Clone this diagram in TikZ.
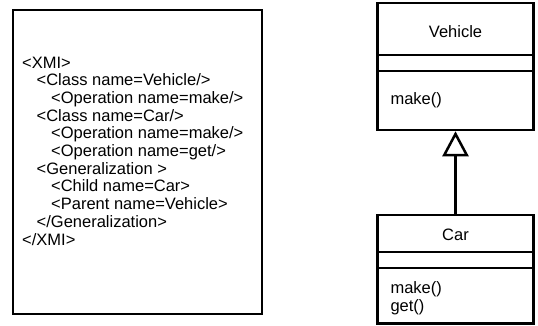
\documentclass[tikz,border=0pt]{standalone}
\usepackage{fontspec}
\setmainfont{Liberation Sans}
\usetikzlibrary{arrows.meta}

\tikzset{
	umlbox/.style={draw, line width=2.5pt, inner sep=0pt, minimum width=156pt},
	xmiline/.style={anchor=base west, inner sep=0pt},
	inherit/.style={line width=2.5pt, -{Triangle[open, length=25pt, width=26pt]}}
}

\begin{document}
\begin{tikzpicture}[x=1pt, y=1pt, font=\fontsize{16.5}{18}\selectfont]

	\useasboundingbox (0,0) rectangle (538,325);

	% xmi listing
	\coordinate (xmisw) at (13,11);
	\coordinate (xmine) at (262,315);
	\draw [line width=2.8pt] (xmisw) rectangle (xmine);

	\foreach \lvl/\txt [count=\i] in {0/{<XMI>}, 1/{<Class name=Vehicle/>}, 2/{<Operation name=make/>},
		1/{<Class name=Car/>}, 2/{<Operation name=make/>}, 2/{<Operation name=get/>},
		1/{<Generalization >}, 2/{<Child name=Car>}, 2/{<Parent name=Vehicle>},
		1/{</Generalization>}, 0/{</XMI>}}
		\node [xmiline] (line\i) at ({22+14.5*\lvl},{257-17.7*(\i-1)}) {\txt};

	% class diagram
	\node [umlbox, minimum height=127pt] (vehicle) at (455.5,258.5) {};
	\node [umlbox, minimum height=108.5pt] (car) at (455.5,55.75) {};

	\foreach \y in {270,254} \draw [line width=2.5pt] (vehicle.west |- 0,\y) -- (vehicle.east |- 0,\y);
	\foreach \y in {73,57} \draw [line width=2.5pt] (car.west |- 0,\y) -- (car.east |- 0,\y);

	\node at (455.5,288) [anchor=base] (vname) {Vehicle};
	\node at (387,221) [anchor=base west] (vop) {make()};
	\node at (455.5,85) [anchor=base] (cname) {Car};
	\node at (387,32) [anchor=base west] (cop1) {make()};
	\node at (387,14) [anchor=base west] (cop2) {get()};

	\draw [inherit] (car.north) -- (vehicle.south);
\end{tikzpicture}
\end{document}
